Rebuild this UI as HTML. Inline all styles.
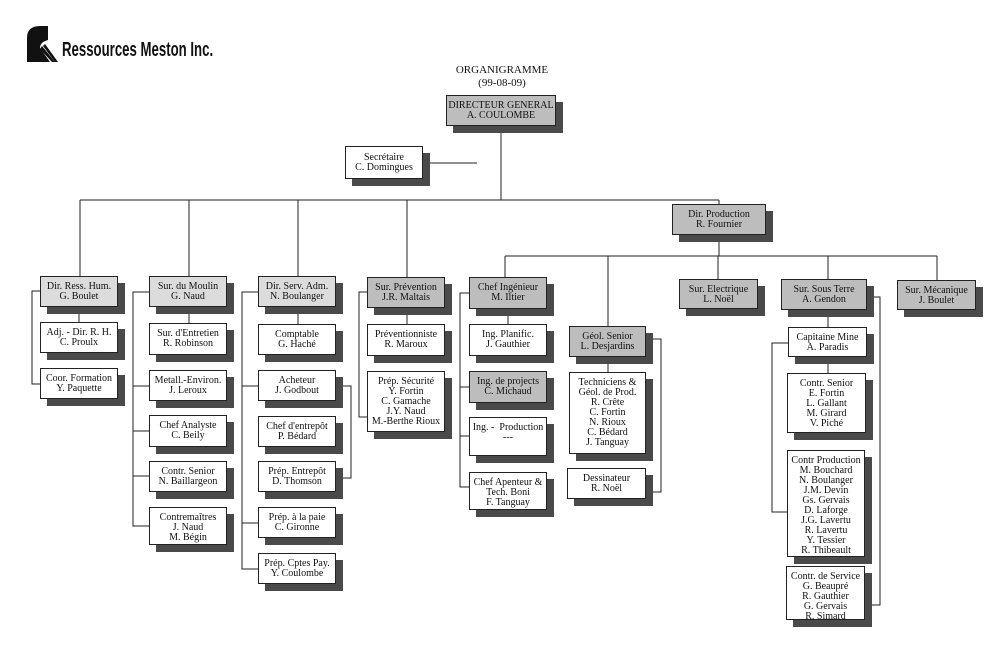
<!DOCTYPE html>
<html><head><meta charset="utf-8"><style>
body{margin:0;background:#fff;}
#c{position:relative;width:1000px;height:652px;overflow:hidden;background:#fff;font-family:"Liberation Serif",serif;color:#111;}
.b{position:absolute;box-sizing:border-box;border:1px solid #222;background:#fff;font-size:10px;line-height:10px;text-align:center;padding-top:5px;box-shadow:7px 7px 0 #4a4a4a;white-space:nowrap;}
.g{background:#bdbdbd;}
.l{background:#dcdcdc;}
svg{position:absolute;left:0;top:0;}
</style></head><body><div id="c">
<svg width="1000" height="652">
<g fill="#111">
<path d="M27 62 L27 38 Q27 26 40 26 L48 26 L48 40 Q40 42 40 48 L50 62 Z"/>
<path d="M42 46 L55 62 L52 62 L40 49 Z"/>
<path d="M45 44 L58 62 L55 62 L43 46 Z"/>
</g>
<g stroke="#222" stroke-width="1" fill="none">
<line x1="423" y1="163" x2="477" y2="163"/>
<line x1="501" y1="125" x2="501" y2="200"/>
<line x1="80" y1="200" x2="719" y2="200"/>
<line x1="80" y1="200" x2="80" y2="276"/>
<line x1="189" y1="200" x2="189" y2="276"/>
<line x1="298" y1="200" x2="298" y2="276"/>
<line x1="407" y1="200" x2="407" y2="277"/>
<line x1="719" y1="200" x2="719" y2="205"/>
<line x1="719" y1="236" x2="719" y2="256"/>
<line x1="505" y1="256" x2="937" y2="256"/>
<line x1="505" y1="256" x2="505" y2="277"/>
<line x1="608" y1="256" x2="608" y2="326"/>
<line x1="718" y1="256" x2="718" y2="279"/>
<line x1="828" y1="256" x2="828" y2="279"/>
<line x1="937" y1="256" x2="937" y2="280"/>
<line x1="79" y1="307" x2="79" y2="322"/>
<polyline points="40,291 32,291 32,384 40,384"/>
<line x1="189" y1="307" x2="189" y2="323"/>
<polyline points="149,292 133,292 133,526 149,526"/>
<line x1="133" y1="386" x2="149" y2="386"/><line x1="133" y1="431" x2="149" y2="431"/><line x1="133" y1="476" x2="149" y2="476"/>
<line x1="298" y1="307" x2="298" y2="324"/>
<polyline points="258,292 242,292 242,569 258,569"/>
<line x1="242" y1="386" x2="258" y2="386"/><line x1="242" y1="523" x2="258" y2="523"/>
<polyline points="336,386 351,386 351,478 336,478"/>
<line x1="407" y1="308" x2="407" y2="324"/>
<polyline points="367,292 359,292 359,417 367,417"/>
<line x1="508" y1="309" x2="508" y2="324"/>
<polyline points="469,293 460,293 460,487 469,487"/>
<line x1="460" y1="387" x2="469" y2="387"/><line x1="460" y1="436" x2="469" y2="436"/>
<line x1="608" y1="357" x2="608" y2="372"/>
<polyline points="646,339 661,339 661,492 646,492"/>
<line x1="828" y1="310" x2="828" y2="327"/>
<line x1="828" y1="357" x2="828" y2="373"/>
<polyline points="788,343 772,343 772,512 787,512"/>
<polyline points="867,297 880,297 880,605 865,605"/>
</g>
</svg>
<div style="position:absolute;left:62px;top:39px;font-family:'Liberation Sans',sans-serif;font-weight:bold;font-size:20px;transform:scaleX(0.66);transform-origin:0 0;white-space:nowrap;">Ressources Meston Inc.</div>
<div style="position:absolute;left:440px;top:64px;width:124px;text-align:center;font-size:11px;line-height:13px;">ORGANIGRAMME<br>(99-08-09)</div>
<div class="b g" style="left:446px;top:95px;width:110px;height:31px;">DIRECTEUR GENERAL<br>A. COULOMBE</div>
<div class="b" style="left:345px;top:146px;width:78px;height:33px;padding-top:6px;">Secrétaire<br>C. Domingues</div>
<div class="b g" style="left:672px;top:204px;width:94px;height:31px;">Dir. Production<br>R. Fournier</div>

<div class="b l" style="left:40px;top:276px;width:78px;height:31px;">Dir. Ress. Hum.<br>G. Boulet</div>
<div class="b" style="left:40px;top:322px;width:78px;height:31px;">Adj. - Dir. R. H.<br>C. Proulx</div>
<div class="b" style="left:40px;top:368px;width:78px;height:31px;">Coor. Formation<br>Y. Paquette</div>

<div class="b l" style="left:149px;top:276px;width:78px;height:31px;">Sur. du Moulin<br>G. Naud</div>
<div class="b" style="left:149px;top:323px;width:78px;height:32px;">Sur. d'Entretien<br>R. Robinson</div>
<div class="b" style="left:149px;top:370px;width:78px;height:31px;">Metall.-Environ.<br>J. Leroux</div>
<div class="b" style="left:149px;top:415px;width:78px;height:32px;">Chef Analyste<br>C. Beily</div>
<div class="b" style="left:149px;top:461px;width:78px;height:31px;">Contr. Senior<br>N. Baillargeon</div>
<div class="b" style="left:149px;top:507px;width:78px;height:38px;">Contremaîtres<br>J. Naud<br>M. Bégin</div>

<div class="b l" style="left:258px;top:276px;width:78px;height:31px;">Dir. Serv. Adm.<br>N. Boulanger</div>
<div class="b" style="left:258px;top:324px;width:78px;height:31px;">Comptable<br>G. Haché</div>
<div class="b" style="left:258px;top:370px;width:78px;height:31px;">Acheteur<br>J. Godbout</div>
<div class="b" style="left:258px;top:416px;width:78px;height:31px;">Chef d'entrepôt<br>P. Bédard</div>
<div class="b" style="left:258px;top:461px;width:78px;height:31px;">Prép. Entrepôt<br>D. Thomson</div>
<div class="b" style="left:258px;top:507px;width:78px;height:31px;">Prép. à la paie<br>C. Gironne</div>
<div class="b" style="left:258px;top:553px;width:78px;height:31px;">Prép. Cptes Pay.<br>Y. Coulombe</div>

<div class="b g" style="left:367px;top:277px;width:78px;height:31px;">Sur. Prévention<br>J.R. Maltais</div>
<div class="b" style="left:367px;top:324px;width:78px;height:32px;">Préventionniste<br>R. Maroux</div>
<div class="b" style="left:367px;top:371px;width:78px;height:61px;">Prép. Sécurité<br>Y. Fortin<br>C. Gamache<br>J.Y. Naud<br>M.-Berthe Rioux</div>

<div class="b g" style="left:469px;top:277px;width:78px;height:32px;">Chef Ingénieur<br>M. Iltier</div>
<div class="b" style="left:469px;top:324px;width:78px;height:32px;">Ing. Planific.<br>J. Gauthier</div>
<div class="b g" style="left:469px;top:371px;width:78px;height:32px;">Ing. de projects<br>C. Michaud</div>
<div class="b" style="left:469px;top:417px;width:78px;height:39px;">Ing. - &nbsp;Production<br>---</div>
<div class="b" style="left:469px;top:472px;width:78px;height:38px;">Chef Apenteur &amp;<br>Tech. Boni<br>F. Tanguay</div>

<div class="b g" style="left:569px;top:326px;width:77px;height:31px;">Géol. Senior<br>L. Desjardins</div>
<div class="b" style="left:569px;top:372px;width:77px;height:82px;">Techniciens &amp;<br>Géol. de Prod.<br>R. Crête<br>C. Fortin<br>N. Rioux<br>C. Bédard<br>J. Tanguay</div>
<div class="b" style="left:567px;top:468px;width:79px;height:31px;">Dessinateur<br>R. Noël</div>

<div class="b g" style="left:679px;top:279px;width:79px;height:30px;">Sur. Electrique<br>L. Noël</div>
<div class="b g" style="left:781px;top:279px;width:86px;height:31px;">Sur. Sous Terre<br>A. Gendon</div>
<div class="b g" style="left:897px;top:280px;width:79px;height:30px;">Sur. Mécanique<br>J. Boulet</div>
<div class="b" style="left:788px;top:327px;width:79px;height:30px;">Capitaine Mine<br>A. Paradis</div>
<div class="b" style="left:787px;top:373px;width:79px;height:60px;">Contr. Senior<br>E. Fortin<br>L. Gallant<br>M. Girard<br>V. Piché</div>
<div class="b" style="left:787px;top:450px;width:78px;height:107px;">Contr Production<br>M. Bouchard<br>N. Boulanger<br>J.M. Devin<br>Gs. Gervais<br>D. Laforge<br>J.G. Lavertu<br>R. Lavertu<br>Y. Tessier<br>R. Thibeault</div>
<div class="b" style="left:786px;top:566px;width:79px;height:54px;">Contr. de Service<br>G. Beaupré<br>R. Gauthier<br>G. Gervais<br>R. Simard</div>
</div></body></html>
